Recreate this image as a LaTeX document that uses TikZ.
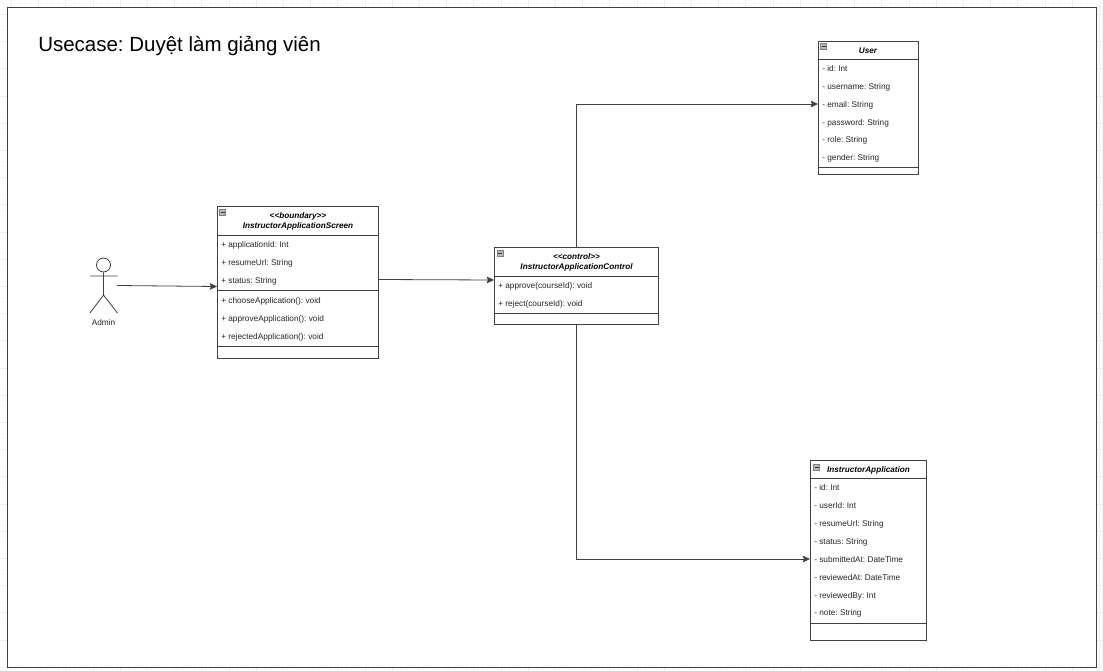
\documentclass[tikz,border=0pt]{standalone}
\usepackage{fontspec}
\setmainfont{Liberation Sans}
\frenchspacing
\usetikzlibrary{arrows.meta,calc}
\definecolor{ink}{HTML}{404040}
\tikzset{
  x=0.75pt,y=-0.75pt,
  umlbox/.style={draw=ink,line width=0.6pt,fill=white,inner sep=0pt,outer sep=0pt},
  sep/.style={draw=ink,line width=0.6pt},
  rowtext/.style={anchor=base west,inner sep=0pt,font=\fontsize{6.2pt}{7pt}\selectfont,text=black!85},
  headtext/.style={anchor=base,inner sep=0pt,font=\fontsize{6.15pt}{7pt}\selectfont\itshape\bfseries,text=black},
  conn/.style={draw=ink,line width=0.6pt,-{Stealth[length=5.5pt,width=5pt,inset=1pt]}},
  collapse/.style={draw=gray,fill=gray!55,line width=0.3pt,minimum width=4.5pt,minimum height=4.5pt,inner sep=0pt,
    path picture={\draw[black!80,line width=0.5pt] ([xshift=-1.5pt]path picture bounding box.center) -- ([xshift=1.5pt]path picture bounding box.center);}},
  actorline/.style={draw=ink,line width=0.6pt},
}
\begin{document}
\begin{tikzpicture}
\useasboundingbox (0,0) rectangle (1103,671);
\fill[white] (0,0) rectangle (1103,671);
% page grid
\foreach \i in {0,...,204} \draw[black!2,line width=0.3pt] ({\i*5.44-2},0) -- ({\i*5.44-2},671);
\foreach \i in {0,...,124} \draw[black!2,line width=0.3pt] (0,{\i*5.44-13}) -- (1103,{\i*5.44-13});
\foreach \i in {0,...,41} \draw[black!7,line width=0.4pt] ({\i*27.2-16},0) -- ({\i*27.2-16},671);
\foreach \i in {0,...,25} \draw[black!7,line width=0.4pt] (0,{\i*27.2-13}) -- (1103,{\i*27.2-13});
% frame
\node[draw=ink,line width=0.8pt,fill=white,outer sep=0pt,minimum width=816.4pt,minimum height=495pt,inner sep=0pt,anchor=north west] (frame) at (7.5,7.5) {};
\node[anchor=base west,inner sep=0pt,font=\fontsize{15.37pt}{18pt}\selectfont,text=black] (title) at (38,51) {Usecase: Duyệt làm giảng viên};

% boxes
\node[umlbox,anchor=north west,minimum width=121.25pt,minimum height=114pt] (screen) at (217,206) {};
\node[umlbox,anchor=north west,minimum width=123.5pt,minimum height=57.75pt] (ctrl) at (494,247) {};
\node[umlbox,anchor=north west,minimum width=75pt,minimum height=99.75pt] (user) at (818,41) {};
\node[umlbox,anchor=north west,minimum width=87.5pt,minimum height=135pt] (app) at (810,460.5) {};

% compartment separators
\draw[sep] (217,235.5) -- (378.7,235.5) (217,290.5) -- (378.7,290.5) (217,346.5) -- (378.7,346.5);
\draw[sep] (494,276) -- (658.7,276) (494,313.5) -- (658.7,313.5);
\draw[sep] (818,59) -- (918,59) (818,167) -- (918,167);
\draw[sep] (810,478) -- (926.7,478) (810,623) -- (926.7,623);

% collapse icons
\node[collapse] (icona) at (222.5,212) {};
\node[collapse] (iconb) at (500,253) {};
\node[collapse] (iconc) at (823.5,46.5) {};
\node[collapse] (icond) at (816.5,467) {};

% screen text
\node[headtext] (sh1) at (298,218) {<{}<boundary>{}>};
\node[headtext] (sh2) at (298,228) {InstructorApplicationScreen};
\node[rowtext] (s1) at (221,247) {+ applicationId: Int};
\node[rowtext] (s2) at (221,265) {+ resumeUrl: String};
\node[rowtext] (s3) at (221,283) {+ status: String};
\node[rowtext] (s4) at (221,303) {+ chooseApplication(): void};
\node[rowtext] (s5) at (221,321) {+ approveApplication(): void};
\node[rowtext] (s6) at (221,339) {+ rejectedApplication(): void};

% control text
\node[headtext] (ch1) at (576.5,259) {<{}<control>{}>};
\node[headtext] (ch2) at (576.5,269) {InstructorApplicationControl};
\node[rowtext] (c1) at (498,288) {+ approve(courseId): void};
\node[rowtext] (c2) at (498,306) {+ reject(courseId): void};

% user text
\node[headtext] (uh) at (868,53) {User};
\node[rowtext] (u1) at (822,71) {- id: Int};
\node[rowtext] (u2) at (822,89) {- username: String};
\node[rowtext] (u3) at (822,107) {- email: String};
\node[rowtext] (u4) at (822,125) {- password: String};
\node[rowtext] (u5) at (822,142) {- role: String};
\node[rowtext] (u6) at (822,160) {- gender: String};

% application text
\node[headtext] (ah) at (868.5,472) {InstructorApplication};
\node[rowtext] (a1) at (814,490) {- id: Int};
\node[rowtext] (a2) at (814,508) {- userId: Int};
\node[rowtext] (a3) at (814,526) {- resumeUrl: String};
\node[rowtext] (a4) at (814,544) {- status: String};
\node[rowtext] (a5) at (814,562) {- submittedAt: DateTime};
\node[rowtext] (a6) at (814,580) {- reviewedAt: DateTime};
\node[rowtext] (a7) at (814,598) {- reviewedBy: Int};
\node[rowtext] (a8) at (814,615) {- note: String};

% actor
\node[actorline,circle,minimum size=10.5pt,inner sep=0pt,fill=white] (head) at (103.5,265) {};
\coordinate (hip) at (103.5,295);
\coordinate (armL) at (90,276);
\coordinate (armR) at (117.5,276);
\coordinate (legL) at (90,313);
\coordinate (legR) at (117.5,313);
\draw[actorline] (head.south) -- (hip) (armL) -- (armR) (legL) -- (hip) -- (legR);
\node[anchor=base,inner sep=0pt,font=\fontsize{6.2pt}{7pt}\selectfont,text=black!85] (admin) at (103.5,325) {Admin};

% connectors
\coordinate (actorOut) at (117,285.5);
\coordinate (screenIn) at (217,286.5);
\coordinate (screenOut) at (379,279.5);
\coordinate (ctrlIn) at (494,280);
\coordinate (userIn) at (818,104);
\coordinate (appIn) at (810,559);
\draw[conn] (actorOut) -- (screenIn);
\draw[conn] (screenOut) -- (ctrlIn);
\draw[conn] (ctrl.north) |- (userIn);
\draw[conn] (ctrl.south) |- (appIn);
\end{tikzpicture}
\end{document}
